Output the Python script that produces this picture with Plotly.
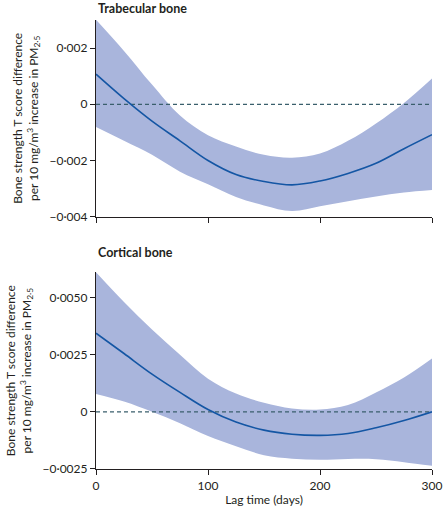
import plotly.graph_objects as go
from plotly.subplots import make_subplots

lag_days = [0, 25, 50, 75, 100, 125, 150, 175, 200, 225, 250, 275, 300]

# Trabecular bone
trab_est = [0.00107, 0.0002, -0.0006, -0.0013, -0.0020, -0.0025, -0.00275, -0.00287, -0.00273, -0.00246, -0.0021, -0.00158, -0.00108]
trab_upper = [0.00301, 0.0019, 0.0007, -0.0004, -0.0011, -0.0015, -0.0018, -0.0019, -0.00175, -0.0013, -0.00068, 0.00005, 0.00092]
trab_lower = [-0.00081, -0.0013, -0.0018, -0.0024, -0.00285, -0.0033, -0.0036, -0.0038, -0.00363, -0.00345, -0.00328, -0.00314, -0.00305]

# Cortical bone
cort_est = [0.00344, 0.00255, 0.00165, 0.00085, 0.0001, -0.00045, -0.0008, -0.00098, -0.00103, -0.00095, -0.0007, -0.00038, 0.0]
cort_upper = [0.0061, 0.0048, 0.0036, 0.0025, 0.00145, 0.0008, 0.0004, 0.00015, 0.0001, 0.0003, 0.00085, 0.0015, 0.00233]
cort_lower = [0.00078, 0.00045, 0.0, -0.0005, -0.00106, -0.0015, -0.0019, -0.00205, -0.0021, -0.00206, -0.00207, -0.0022, -0.00236]

x_ticks = [0, 100, 200, 300]
trab_ticks = [0.002, 0, -0.002, -0.004]
trab_ticktext = ["0·002", "0", "−0·002", "−0·004"]
cort_ticks = [0.005, 0.0025, 0, -0.0025]
cort_ticktext = ["0·0050", "0·0025", "0", "−0·0025"]

BAND = "#a9b5dc"
LINE = "#1456a4"
ZERO = "#3a5f6c"
INK = "#231f20"
FONT = "Lato"
ytitle = "Bone strength T score difference<br>per 10 mg/m<sup>3</sup> increase in PM<sub>2·5</sub>"

fig = make_subplots(rows=2, cols=1, vertical_spacing=0.124)

panels = [
    (1, trab_est, trab_upper, trab_lower),
    (2, cort_est, cort_upper, cort_lower),
]
for row, est, upper, lower in panels:
    fig.add_trace(go.Scatter(x=lag_days, y=upper, mode="lines", line=dict(width=0, color=BAND, shape="spline"),
                             hoverinfo="skip", showlegend=False), row=row, col=1)
    fig.add_trace(go.Scatter(x=lag_days, y=lower, mode="lines", line=dict(width=0, color=BAND, shape="spline"),
                             fill="tonexty", fillcolor=BAND, hoverinfo="skip", showlegend=False), row=row, col=1)
    fig.add_trace(go.Scatter(x=[0, 300], y=[0, 0], mode="lines", line=dict(color=ZERO, width=1.3, dash="4px,3px"),
                             showlegend=False), row=row, col=1)
    fig.add_trace(go.Scatter(x=lag_days, y=est, mode="lines", line=dict(color=LINE, width=1.6, shape="spline"),
                             showlegend=False), row=row, col=1)

axis_style = dict(showgrid=False, zeroline=False, showline=True, linecolor=INK, linewidth=1.2,
                  ticks="outside", ticklen=5, tickcolor=INK, tickfont=dict(size=12, color=INK))

fig.update_xaxes(range=[0, 300], tickvals=x_ticks, automargin=False, **axis_style)
fig.update_xaxes(showticklabels=False, row=1, col=1)
fig.update_xaxes(title=dict(text="Lag time (days)", font=dict(size=12, color=INK), standoff=4), row=2, col=1)

fig.update_yaxes(range=[-0.004, 0.003], tickvals=trab_ticks, ticktext=trab_ticktext, row=1, col=1, **axis_style)
fig.update_yaxes(range=[-0.0025, 0.0061], tickvals=cort_ticks, ticktext=cort_ticktext, row=2, col=1, **axis_style)
fig.update_yaxes(automargin=False, title=dict(text=ytitle, font=dict(size=12, color=INK), standoff=8))

fig.add_annotation(text="<b>Trabecular bone</b>", xref="paper", yref="paper", x=0, y=1, yshift=12,
                   xanchor="left", yanchor="middle", showarrow=False, font=dict(size=12.5, color=INK))
fig.add_annotation(text="<b>Cortical bone</b>", xref="paper", yref="y2 domain", x=0, y=1, yshift=20,
                   xanchor="left", yanchor="middle", showarrow=False, font=dict(size=12.5, color=INK))

fig.update_layout(
    width=445, height=514,
    margin=dict(l=96, r=13, t=20, b=45),
    plot_bgcolor="white", paper_bgcolor="white",
    font=dict(family=FONT, color=INK),
)

# drop the default page margin so the figure fills the window
fig.write_html("out.html", config={"displayModeBar": False},
               post_script="document.body.style.margin = '0';")
